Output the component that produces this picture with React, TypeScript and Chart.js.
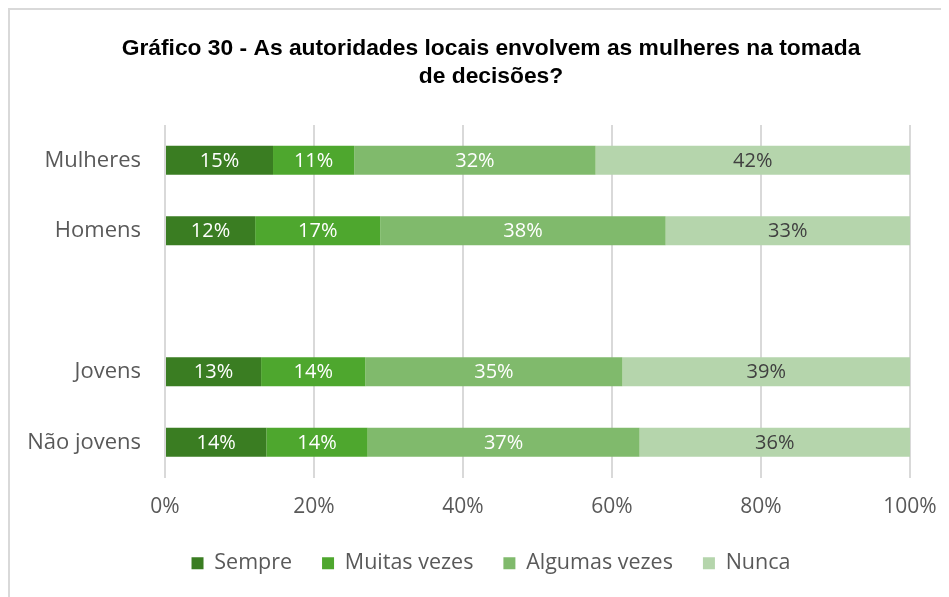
import React, { useEffect, useRef } from "react";
import { Chart, registerables } from "chart.js";

Chart.register(...registerables);

const categories = ["Mulheres", "Homens", "", "Jovens", "Não jovens"];
const seriesNames = ["Sempre", "Muitas vezes", "Algumas vezes", "Nunca"];
const sempre = [14.5, 12.1, null, 12.9, 13.6];
const muitasVezes = [10.9, 16.8, null, 14.0, 13.6];
const algumasVezes = [32.4, 38.3, null, 34.5, 36.5];
const nunca = [42.2, 32.8, null, 38.6, 36.3];
const xTicks = [0, 20, 40, 60, 80, 100];
const titleLines = [
  "Gráfico 30 - As autoridades locais envolvem as mulheres na tomada",
  "de decisões?",
];

const colors = ["#3A7D22", "#4EA72E", "#80BA6C", "#B5D5AC"];
const labelColors = ["#FFFFFF", "#FFFFFF", "#FFFFFF", "#404040"];
const FONT = "'Open Sans', 'Liberation Sans', sans-serif";

const dataLabels = {
  id: "dataLabels",
  afterDatasetsDraw(chart: any) {
    const ctx = chart.ctx;
    ctx.save();
    ctx.font = `20px ${FONT}`;
    ctx.textAlign = "center";
    ctx.textBaseline = "middle";
    chart.data.datasets.forEach((ds: any, i: number) => {
      const meta = chart.getDatasetMeta(i);
      meta.data.forEach((bar: any, j: number) => {
        const v = ds.data[j];
        if (v == null) return;
        ctx.fillStyle = labelColors[i];
        ctx.fillText(Math.round(v) + "%", (bar.x + bar.base) / 2, bar.y + 1);
      });
    });
    ctx.restore();
  },
};

export default function App() {
  const ref = useRef<HTMLCanvasElement>(null);
  useEffect(() => {
    const series = [sempre, muitasVezes, algumasVezes, nunca];
    const chart = new Chart(ref.current as HTMLCanvasElement, {
      type: "bar",
      data: {
        labels: categories,
        datasets: series.map((d, i) => ({
          label: seriesNames[i],
          data: d,
          backgroundColor: colors[i],
          borderWidth: 0,
          barPercentage: 0.82,
          categoryPercentage: 0.5,
        })),
      },
      options: {
        indexAxis: "y",
        animation: false,
        responsive: false,
        layout: { padding: { top: 0, right: 0, bottom: 26, left: 0 } },
        scales: {
          x: {
            stacked: true,
            min: 0,
            max: 100,
            afterBuildTicks: (s: any) => {
              s.ticks = xTicks.map((v) => ({ value: v }));
            },
            afterFit: (s: any) => {
              s.height = 45;
            },
            ticks: {
              padding: 17,
              color: "#595959",
              font: { family: FONT, size: 21 },
              callback: (v: any) => v + "%",
            },
            grid: { color: "#D9D9D9", lineWidth: 2, drawTicks: false },
            border: { display: false },
          },
          y: {
            stacked: true,
            afterFit: (s: any) => {
              s.width = 155;
            },
            ticks: {
              padding: 16,
              color: "#595959",
              font: { family: FONT, size: 22 },
            },
            grid: { display: false },
            border: { display: false },
          },
          yRight: {
            type: "category",
            position: "right",
            afterFit: (s: any) => {
              s.width = 62;
            },
            ticks: { display: false },
            grid: { display: false },
            border: { display: false },
          },
        },
        plugins: {
          title: {
            display: true,
            text: titleLines,
            color: "#000000",
            font: {
              family: "'Liberation Sans', Arial, sans-serif",
              size: 22.8,
              weight: "bold",
              lineHeight: "28px",
            },
            padding: { top: 25, bottom: 34 },
          },
          legend: {
            position: "bottom",
            labels: {
              boxWidth: 12,
              boxHeight: 12,
              padding: 30,
              color: "#595959",
              font: { family: FONT, size: 21.5 },
            },
          },
          tooltip: { enabled: false },
        },
      },
      plugins: [dataLabels],
    } as any);
    return () => chart.destroy();
  }, []);
  return (
    <div
      style={{
        width: 941,
        height: 589,
        overflow: "hidden",
        borderTop: "2px solid #D9D9D9",
        borderLeft: "2px solid #D9D9D9",
        boxSizing: "border-box",
        background: "#FFFFFF",
      }}
    >
      <canvas ref={ref} width={962} height={600} style={{ display: "block" }} />
    </div>
  );
}
